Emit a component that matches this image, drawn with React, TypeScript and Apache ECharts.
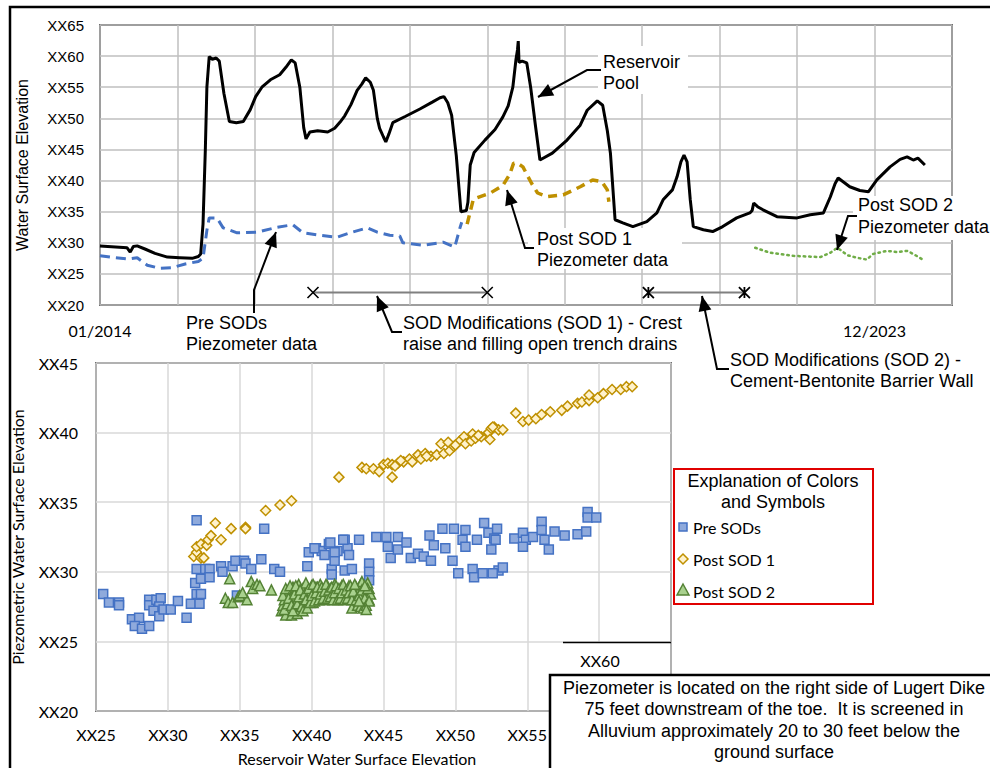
import React, { useEffect, useRef } from 'react';
import * as echarts from 'echarts';

// ---------- Top chart (time series, x = years since 01/2014) ----------
const topXLabelAt = [0, 10];
const topXLabels = ['01/2014', '12/2023'];
const tickPrefix = 'XX';
// scatter x ticks hidden under the note box (XX60 is re-drawn on the patch)
const scatterHiddenXTicks = [60, 65];

const reservoirT = [0.00, 0.35, 0.39, 0.43, 0.48, 0.58, 0.71, 0.87, 1.03, 1.19, 1.27, 1.30, 1.33, 1.36, 1.38, 1.41, 1.45, 1.50, 1.54, 1.60, 1.67, 1.76, 1.85, 1.94, 2.01, 2.09, 2.20, 2.32, 2.40, 2.47, 2.52, 2.58, 2.63, 2.66, 2.71, 2.81, 2.94, 3.03, 3.10, 3.16, 3.24, 3.32, 3.38, 3.43, 3.49, 3.53, 3.58, 3.61, 3.66, 3.69, 3.73, 3.78, 3.94, 4.13, 4.29, 4.39, 4.44, 4.49, 4.54, 4.60, 4.64, 4.66, 4.73, 4.75, 4.78, 4.83, 4.97, 5.10, 5.20, 5.27, 5.33, 5.37, 5.39, 5.40, 5.41, 5.45, 5.51, 5.56, 5.62, 5.68, 5.84, 6.03, 6.20, 6.29, 6.42, 6.49, 6.55, 6.59, 6.65, 6.75, 6.88, 7.06, 7.19, 7.27, 7.39, 7.45, 7.50, 7.54, 7.58, 7.62, 7.66, 7.79, 7.91, 8.04, 8.22, 8.39, 8.42, 8.44, 8.49, 8.56, 8.74, 9.00, 9.17, 9.34, 9.43, 9.49, 9.53, 9.68, 9.81, 9.92, 10.03, 10.20, 10.33, 10.42, 10.50, 10.56, 10.65];
const reservoirY = [29.5, 29.2, 28.5, 29.4, 29.5, 29.0, 28.3, 27.7, 27.6, 27.5, 27.8, 28.2, 33.0, 45.0, 55.0, 59.9, 59.5, 59.7, 59.2, 54.0, 49.5, 49.3, 49.5, 51.4, 53.5, 55.0, 56.2, 57.0, 58.2, 59.4, 58.9, 55.0, 48.5, 46.7, 47.8, 48.0, 47.8, 48.4, 49.4, 50.4, 52.2, 54.5, 55.5, 56.5, 55.8, 54.5, 50.0, 48.4, 47.0, 46.2, 47.5, 49.3, 50.3, 51.5, 52.6, 53.3, 53.5, 52.5, 50.5, 44.0, 38.0, 35.0, 35.2, 36.5, 42.5, 44.5, 46.5, 48.2, 50.2, 52.0, 55.0, 59.4, 61.0, 62.4, 59.0, 59.2, 58.9, 55.0, 49.0, 43.3, 44.4, 46.5, 48.9, 51.3, 52.8, 52.1, 48.0, 44.4, 33.7, 33.2, 32.6, 33.4, 34.8, 36.9, 38.5, 40.6, 43.0, 44.1, 43.0, 37.0, 32.6, 32.1, 31.8, 32.6, 34.0, 34.8, 35.2, 36.4, 35.8, 35.3, 34.2, 34.0, 34.5, 34.8, 37.4, 39.5, 40.4, 39.0, 38.4, 38.2, 40.1, 42.2, 43.4, 43.8, 43.3, 43.6, 42.5];

const preSodT = [0.00, 0.19, 0.36, 0.48, 0.61, 0.77, 0.93, 1.10, 1.27, 1.33, 1.38, 1.41, 1.51, 1.59, 1.77, 2.03, 2.29, 2.49, 2.62, 2.84, 3.06, 3.23, 3.45, 3.58, 3.74, 3.87, 3.91, 4.17, 4.43, 4.58, 4.65, 4.67];
const preSodY = [27.9, 27.6, 27.4, 27.6, 26.4, 25.9, 26.0, 26.6, 27.0, 27.5, 32.0, 34.0, 34.0, 32.4, 31.6, 31.7, 32.5, 32.9, 31.6, 31.2, 30.9, 31.6, 32.4, 31.7, 31.2, 31.1, 30.0, 29.6, 30.1, 29.3, 32.5, 33.3];

const postSod1T = [4.74, 4.82, 5.04, 5.20, 5.29, 5.34, 5.39, 5.46, 5.57, 5.65, 5.77, 5.98, 6.20, 6.36, 6.48, 6.55, 6.57];
const postSod1Y = [33.0, 37.0, 38.0, 39.2, 41.0, 42.8, 42.8, 42.2, 39.6, 38.0, 37.4, 37.7, 39.0, 40.1, 39.8, 38.5, 36.6];

const postSod2T = [8.46, 8.65, 8.95, 9.30, 9.43, 9.52, 9.65, 9.77, 9.90, 9.98, 10.16, 10.29, 10.42, 10.50, 10.61];
const postSod2Y = [29.2, 28.4, 27.9, 27.7, 28.4, 29.2, 28.0, 27.6, 27.3, 28.2, 28.7, 28.5, 28.7, 28.2, 27.4];

const sod1Range = [2.75, 5.0];
const sod2Range = [7.08, 8.32];
const sodMarkerLevel = 22;

// ---------- Bottom chart (scatter: reservoir vs piezometer) ----------
const preSodPoints = [
  [25.5, 28.4], [25.9, 27.8], [26.6, 27.8], [26.6, 27.6], [27.5, 26.6], [28.0, 26.7], [27.7, 26.1], [28.2, 25.9], [28.7, 26.1],
  [28.7, 28.0], [28.7, 27.6], [29.2, 28.0], [29.5, 28.1], [29.4, 27.5], [29.0, 27.2], [29.4, 26.8], [29.7, 27.3], [30.2, 27.3],
  [30.7, 27.9], [31.3, 26.7], [31.6, 27.7], [32.2, 27.7], [32.0, 28.4], [32.3, 28.4], [31.9, 29.2], [32.0, 30.2], [32.3, 29.5],
  [32.6, 30.2], [32.9, 30.2], [32.9, 29.6], [32.0, 33.7], [33.7, 30.4], [33.8, 30.0], [34.5, 30.4], [34.7, 30.8], [35.3, 30.8],
  [35.4, 30.6], [35.8, 30.2], [36.5, 30.9], [36.7, 33.1], [37.4, 30.2], [37.8, 30.0], [34.8, 28.3], [39.7, 30.4], [39.8, 31.4],
  [40.3, 31.7], [40.7, 31.5], [41.2, 32.0], [41.4, 30.2], [41.4, 29.8], [41.6, 30.8], [41.8, 31.5], [42.3, 32.3], [42.5, 31.7],
  [42.6, 31.2], [42.3, 30.1], [42.8, 30.2], [43.3, 32.3], [44.0, 30.6], [44.0, 30.0], [44.0, 29.4], [44.5, 32.5], [45.2, 32.5],
  [45.3, 31.8], [45.5, 31.0], [46.0, 32.5], [46.0, 31.6], [46.6, 32.1], [46.9, 31.0], [47.4, 31.3], [47.8, 31.1], [48.2, 32.6],
  [48.3, 30.8], [48.5, 31.9], [49.1, 33.1], [49.3, 31.7], [49.8, 30.8], [49.9, 33.1], [50.2, 29.9], [50.5, 32.3], [50.7, 33.0],
  [50.7, 31.8], [51.2, 30.2], [51.3, 29.6], [51.5, 32.3], [51.9, 29.9], [52.0, 33.5], [52.3, 32.8], [52.5, 31.6], [52.7, 32.4],
  [52.9, 33.1], [53.0, 30.1], [52.8, 32.3], [52.6, 29.9], [53.3, 30.3], [54.1, 32.4], [54.7, 32.8], [54.9, 32.3], [55.4, 32.5],
  [54.7, 31.8], [56.0, 33.6], [56.0, 33.0], [56.2, 32.3], [56.5, 31.6], [56.9, 32.9], [57.6, 32.6], [58.5, 32.7], [59.1, 32.9],
  [59.2, 34.3], [59.2, 33.9], [59.8, 33.9], [40.2, 31.7], [41.3, 32.1], [42.2, 32.3], [41.6, 31.4], [40.9, 31.2],
];

const postSod1Points = [
  [31.8, 31.1], [32.0, 31.4], [32.3, 31.0], [32.5, 31.0], [32.0, 31.8], [32.3, 32.0], [32.7, 31.9], [32.8, 32.3], [33.0, 32.6],
  [33.7, 32.3], [33.3, 33.5], [34.4, 33.1], [35.4, 33.2], [35.4, 33.1], [36.8, 34.4], [37.8, 34.8], [38.6, 35.1], [41.9, 36.8],
  [43.5, 37.5], [43.8, 37.4], [44.3, 37.4], [44.7, 37.2], [45.0, 37.7], [45.3, 37.8], [45.6, 36.8], [45.6, 37.7], [46.0, 37.8],
  [46.4, 37.9], [46.8, 38.1], [47.0, 37.9], [47.4, 38.4], [47.6, 38.1], [47.9, 38.5], [48.3, 38.3], [48.7, 38.4], [49.0, 39.2],
  [49.2, 38.5], [49.5, 39.3], [49.6, 38.7], [49.9, 39.0], [50.3, 39.4], [50.6, 39.7], [50.7, 39.2], [51.1, 39.4], [51.2, 39.9],
  [51.4, 39.6], [51.8, 39.7], [52.3, 40.0], [52.5, 40.3], [52.7, 40.4], [53.0, 40.2], [52.4, 39.5], [52.6, 40.4], [53.3, 40.2],
  [54.2, 41.4], [54.7, 40.8], [55.1, 40.9], [55.6, 41.0], [56.0, 41.3], [56.6, 41.5], [57.4, 41.6], [57.8, 41.9], [58.5, 42.1],
  [58.8, 42.2], [59.3, 42.3], [59.3, 42.7], [59.9, 42.5], [60.3, 42.8], [60.9, 43.1], [61.5, 43.1], [61.9, 43.3], [62.3, 43.3],
  [46.2, 38.0], [48.0, 38.3], [50.0, 39.1], [51.6, 39.8], [45.8, 37.6],
];

const postSod2Points = [
  [34.3, 29.5], [34.0, 28.1], [34.2, 27.8], [34.5, 27.8], [34.9, 28.2], [35.0, 28.3], [35.5, 28.0], [35.2, 28.5], [35.8, 29.3],
  [35.9, 28.8], [36.2, 29.1], [36.4, 29.0], [37.2, 28.7], [42.8, 27.4],
  [37.9, 27.2], [38.0, 27.6], [38.1, 28.0], [38.2, 28.4], [38.3, 27.0], [38.4, 28.7], [38.5, 27.4], [38.6, 28.2], [38.7, 28.9],
  [38.8, 27.1], [38.9, 27.8], [39.0, 28.5], [39.1, 29.1], [39.2, 27.3], [39.3, 28.0], [39.4, 28.8], [39.5, 27.6], [39.6, 29.2],
  [39.7, 28.3], [39.8, 27.9], [39.9, 28.6], [40.0, 29.0], [40.1, 27.8], [40.2, 28.4], [40.3, 28.9], [40.4, 28.1], [40.5, 28.6],
  [40.6, 29.1], [40.7, 28.2], [40.8, 28.7], [40.9, 28.0], [41.0, 28.5], [41.1, 29.0], [41.2, 28.3], [41.3, 28.8], [41.4, 28.1],
  [41.5, 28.6], [41.6, 29.1], [41.7, 28.3], [41.8, 28.7], [41.9, 28.2], [42.0, 28.6], [42.1, 29.0], [42.2, 28.4], [42.3, 28.8],
  [42.4, 28.2], [42.5, 28.6], [42.6, 29.0], [42.7, 28.3], [42.8, 28.7], [42.9, 28.1], [43.0, 28.5], [43.1, 28.9], [43.2, 28.2],
  [43.3, 28.6], [43.4, 29.1], [43.5, 28.0], [43.6, 28.4], [43.7, 28.8], [43.8, 28.2], [43.9, 28.5], [44.0, 28.0], [44.0, 28.8],
  [44.1, 28.4], [43.9, 29.2], [43.5, 29.3], [38.2, 26.9], [38.6, 26.9], [39.0, 27.0],
  [38.0, 28.3], [38.1, 27.3], [38.2, 28.8], [38.3, 27.7], [38.4, 28.1], [38.5, 29.0], [38.6, 27.6], [38.7, 27.2], [38.8, 28.4],
  [38.9, 29.0], [39.0, 27.7], [39.1, 28.2], [39.2, 28.7], [39.3, 27.5], [39.4, 27.2], [39.5, 28.4], [39.6, 28.0], [39.7, 27.4],
  [39.8, 28.8], [39.9, 27.8], [40.0, 28.3], [40.1, 29.1], [40.2, 27.9], [40.3, 28.5], [40.4, 28.9], [40.5, 28.0], [40.6, 28.4],
  [40.7, 28.9], [40.8, 28.1], [40.9, 28.6], [41.0, 29.1], [41.1, 28.1], [41.2, 28.7], [41.3, 28.2], [41.4, 28.9], [41.5, 28.0],
  [41.6, 28.5], [41.7, 29.0], [41.8, 28.0], [41.9, 28.8], [42.0, 28.1], [42.1, 28.5], [42.2, 29.1], [42.3, 28.0], [42.4, 28.7],
  [42.5, 28.1], [42.6, 28.5], [42.7, 29.0], [42.8, 28.0], [42.9, 28.6], [43.0, 29.1], [43.1, 28.0], [43.2, 27.6], [43.3, 28.3],
  [43.4, 27.5], [43.5, 28.7], [43.6, 27.4], [43.7, 28.1], [43.8, 27.6], [43.9, 28.8], [44.0, 27.9], [43.7, 29.0], [43.3, 27.9],
  [43.8, 27.3],
];

const seriesNames = ['Pre SODs', 'Post SOD 1', 'Post SOD 2'];

const ARIAL = '"Liberation Sans", Arial, sans-serif';
const CALIBRI = 'Lato, "Noto Sans", sans-serif';

function zip(t: number[], y: number[]) {
  return t.map((v, i) => [v, y[i]]);
}

function arrowHead(tip: number[], from: number[], L = 15, W = 6.5) {
  const dx = tip[0] - from[0];
  const dy = tip[1] - from[1];
  const len = Math.hypot(dx, dy);
  const ux = dx / len;
  const uy = dy / len;
  const bx = tip[0] - ux * L;
  const by = tip[1] - uy * L;
  return [tip, [bx - uy * W, by + ux * W], [bx + uy * W, by - ux * W]];
}

function leader(points: number[][]) {
  const tip = points[points.length - 1];
  const from = points[points.length - 2];
  return [
    { type: 'polyline', z: 12, shape: { points }, style: { stroke: '#000', lineWidth: 2, fill: null } },
    { type: 'polygon', z: 12, shape: { points: arrowHead(tip, from) }, style: { fill: '#000' } },
  ];
}

function txt(text: string, x: number, y: number, font = ARIAL, size = 18, align = 'left', z = 12) {
  return {
    type: 'text',
    z,
    x,
    y,
    style: { text, fontFamily: font, fontSize: size, fill: '#000', align, verticalAlign: 'middle' },
  };
}

function whiteRect(x: number, y: number, w: number, h: number) {
  return { type: 'rect', z: 1, shape: { x, y, width: w, height: h }, style: { fill: '#fff' } };
}

export default function App() {
  const ref = useRef<HTMLDivElement>(null);

  useEffect(() => {
    document.body.style.margin = '0';
    const chart = echarts.init(ref.current!, null, { renderer: 'svg' });

    const xSymbol = 'path://M0,0L10,10M10,0L0,10';
    const starSymbol = 'path://M0,0L10,10M10,0L0,10M5,0L5,10';

    const option: any = {
      animation: false,
      backgroundColor: '#fff',
      grid: [
        { left: 100, top: 25, width: 852, height: 280, show: true, borderColor: '#000', borderWidth: 1.5, backgroundColor: 'transparent' },
        { left: 96, top: 363, width: 575, height: 348, show: true, borderColor: '#000', borderWidth: 1.5, backgroundColor: 'transparent' },
      ],
      xAxis: [
        {
          type: 'value', gridIndex: 0, min: 0, max: 11, interval: 1,
          axisLine: { show: false }, axisTick: { show: false },
          splitLine: { show: true, lineStyle: { color: '#bfbfbf', width: 1.5 } },
          axisLabel: {
            margin: 17, color: '#000', fontFamily: CALIBRI, fontSize: 16,
            formatter: (v: number) => {
              const i = topXLabelAt.indexOf(Math.round(v));
              return i >= 0 ? topXLabels[i] : '';
            },
          },
        },
        {
          type: 'value', gridIndex: 1, min: 25, max: 65, interval: 5,
          axisLine: { show: false }, axisTick: { show: false },
          splitLine: { show: true, lineStyle: { color: '#d9d9d9', width: 1.5 } },
          axisLabel: {
            margin: 15, color: '#000', fontFamily: CALIBRI, fontSize: 16,
            formatter: (v: number) => (scatterHiddenXTicks.indexOf(Math.round(v)) >= 0 ? '' : tickPrefix + v),
          },
        },
      ],
      yAxis: [
        {
          type: 'value', gridIndex: 0, min: 20, max: 65, interval: 5,
          axisLine: { show: false }, axisTick: { show: false },
          splitLine: { show: true, lineStyle: { color: '#bfbfbf', width: 1.5 } },
          axisLabel: { margin: 16, color: '#000', fontFamily: ARIAL, fontSize: 15, formatter: (v: number) => tickPrefix + v },
          name: 'Water Surface Elevation', nameLocation: 'middle', nameGap: 70,
          nameTextStyle: { color: '#000', fontFamily: ARIAL, fontSize: 16 },
        },
        {
          type: 'value', gridIndex: 1, min: 20, max: 45, interval: 5,
          axisLine: { show: false }, axisTick: { show: false },
          splitLine: { show: true, lineStyle: { color: '#d9d9d9', width: 1.5 } },
          axisLabel: { margin: 18, color: '#000', fontFamily: CALIBRI, fontSize: 16, formatter: (v: number) => tickPrefix + v },
          name: 'Piezometric Water Surface Elevation', nameLocation: 'middle', nameGap: 71,
          nameTextStyle: { color: '#000', fontFamily: CALIBRI, fontSize: 16 },
        },
      ],
      series: [
        {
          name: 'Reservoir Pool', type: 'line', xAxisIndex: 0, yAxisIndex: 0, data: zip(reservoirT, reservoirY),
          symbol: 'none', lineStyle: { color: '#000', width: 3 }, z: 5,
        },
        {
          name: 'Pre SODs piezometer', type: 'line', xAxisIndex: 0, yAxisIndex: 0, data: zip(preSodT, preSodY),
          symbol: 'none', lineStyle: { color: '#4472c4', width: 3, type: [10, 6] }, z: 4,
        },
        {
          name: 'Post SOD 1 piezometer', type: 'line', xAxisIndex: 0, yAxisIndex: 0, data: zip(postSod1T, postSod1Y),
          symbol: 'none', lineStyle: { color: '#bf9000', width: 3.5, type: [9, 6] }, z: 4,
        },
        {
          name: 'Post SOD 2 piezometer', type: 'line', xAxisIndex: 0, yAxisIndex: 0, data: zip(postSod2T, postSod2Y),
          symbol: 'none', lineStyle: { color: '#70ad47', width: 2.5, type: [1.5, 4], cap: 'round' }, z: 4,
        },
        {
          name: 'SOD 1', type: 'line', xAxisIndex: 0, yAxisIndex: 0,
          data: sod1Range.map((t) => [t, sodMarkerLevel]),
          symbol: xSymbol, symbolSize: 11, showSymbol: true,
          itemStyle: { color: 'rgba(0,0,0,0)', borderColor: '#000', borderWidth: 1.6 },
          lineStyle: { color: '#808080', width: 2 }, z: 6,
        },
        {
          name: 'SOD 2', type: 'line', xAxisIndex: 0, yAxisIndex: 0,
          data: sod2Range.map((t) => [t, sodMarkerLevel]),
          symbol: starSymbol, symbolSize: 11, showSymbol: true,
          itemStyle: { color: 'rgba(0,0,0,0)', borderColor: '#000', borderWidth: 1.8 },
          lineStyle: { color: '#808080', width: 2 }, z: 6,
        },
        {
          name: seriesNames[0], type: 'scatter', xAxisIndex: 1, yAxisIndex: 1, data: preSodPoints,
          symbol: 'rect', symbolSize: 9,
          itemStyle: { color: '#8faadc', borderColor: '#4472c4', borderWidth: 1.5, opacity: 1 }, z: 3,
        },
        {
          name: seriesNames[1], type: 'scatter', xAxisIndex: 1, yAxisIndex: 1, data: postSod1Points,
          symbol: 'diamond', symbolSize: 10,
          itemStyle: { color: '#fff2cc', borderColor: '#bf9000', borderWidth: 1.5, opacity: 1 }, z: 4,
        },
        {
          name: seriesNames[2], type: 'scatter', xAxisIndex: 1, yAxisIndex: 1, data: postSod2Points,
          symbol: 'triangle', symbolSize: 10,
          itemStyle: { color: '#a9d18e', borderColor: '#548235', borderWidth: 1.5, opacity: 1 }, z: 5,
        },
      ],
      graphic: [
        whiteRect(598, 46, 90, 48),
        whiteRect(528, 228, 154, 41),
        whiteRect(853, 196, 140, 44),

        txt('Reservoir', 603, 62),
        txt('Pool', 603, 83),
        ...leader([[601, 70], [587, 70], [538, 97]]),

        txt('Post SOD 1', 537, 239),
        txt('Piezometer data', 537, 260),
        ...leader([[534, 248], [525, 248], [507, 190]]),

        txt('Post SOD 2', 858, 205),
        txt('Piezometer data', 858, 227),
        ...leader([[857, 216], [848, 216], [837, 250]]),

        txt('Pre SODs', 186, 323),
        txt('Piezometer data', 186, 344),
        ...leader([[254, 313], [254, 290], [276, 232]]),

        txt('SOD Modifications (SOD 1) - Crest', 403, 323),
        txt('raise and filling open trench drains', 403, 344),
        ...leader([[402, 332], [392, 332], [377, 296]]),

        txt('SOD Modifications (SOD 2) -', 730, 360),
        txt('Cement-Bentonite Barrier Wall', 730, 381),
        ...leader([[729, 369], [717, 369], [702, 296]]),

        txt('Reservoir Water Surface Elevation', 357, 758, CALIBRI, 16, 'center'),

        { type: 'rect', z: 14, shape: { x: 564, y: 643, width: 106, height: 68 }, style: { fill: '#fff' } },
        { type: 'line', z: 15, shape: { x1: 563, y1: 642.5, x2: 671, y2: 642.5 }, style: { stroke: '#000', lineWidth: 1.5 } },
        txt('XX60', 600, 660, CALIBRI, 16, 'center', 15),

        { type: 'rect', z: 16, shape: { x: 674, y: 469, width: 199, height: 135 }, style: { fill: '#fff', stroke: '#e00000', lineWidth: 2 } },
        txt('Explanation of Colors', 773, 481, ARIAL, 18, 'center', 17),
        txt('and Symbols', 773, 502, ARIAL, 18, 'center', 17),
        { type: 'rect', z: 17, shape: { x: 679, y: 523, width: 8, height: 8 }, style: { fill: '#8faadc', stroke: '#4472c4', lineWidth: 1.5 } },
        txt(seriesNames[0], 693, 527, CALIBRI, 16, 'left', 17),
        { type: 'polygon', z: 17, shape: { points: [[683, 554], [688, 559], [683, 564], [678, 559]] }, style: { fill: '#fff2cc', stroke: '#bf9000', lineWidth: 1.5 } },
        txt(seriesNames[1], 693, 559, CALIBRI, 16, 'left', 17),
        { type: 'polygon', z: 17, shape: { points: [[683, 584], [689, 595], [677, 595]] }, style: { fill: '#a9d18e', stroke: '#548235', lineWidth: 1.5 } },
        txt(seriesNames[2], 693, 591, CALIBRI, 16, 'left', 17),

        { type: 'rect', z: 20, shape: { x: 550, y: 675, width: 470, height: 120 }, style: { fill: '#fff', stroke: '#000', lineWidth: 2.5 } },
        txt('Piezometer is located on the right side of Lugert Dike', 774, 688, ARIAL, 18, 'center', 21),
        txt('75 feet downstream of the toe.  It is screened in', 774, 709, ARIAL, 18, 'center', 21),
        txt('Alluvium approximately 20 to 30 feet below the', 774, 731, ARIAL, 18, 'center', 21),
        txt('ground surface', 774, 752, ARIAL, 18, 'center', 21),

        { type: 'rect', z: 30, shape: { x: 10, y: 7, width: 1000, height: 800 }, style: { fill: null, stroke: '#000', lineWidth: 2.5 } },
      ],
    };

    chart.setOption(option);
    return () => chart.dispose();
  }, []);

  return <div ref={ref} style={{ width: 990, height: 768, position: 'absolute', left: 0, top: 0 }} />;
}
